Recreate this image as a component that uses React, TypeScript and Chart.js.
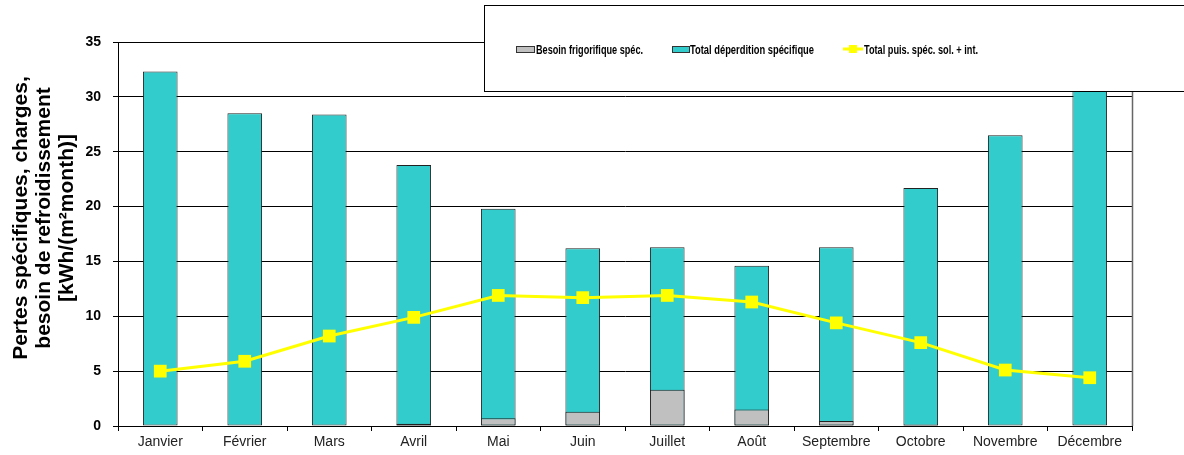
import React, { useEffect, useRef } from 'react';
import { Chart, registerables } from 'chart.js';

Chart.register(...registerables);

const months = ['Janvier', 'Février', 'Mars', 'Avril', 'Mai', 'Juin', 'Juillet', 'Août', 'Septembre', 'Octobre', 'Novembre', 'Décembre'];
const besoinFrigorifique = [null, null, null, 0.2, 0.7, 1.3, 3.3, 1.5, 0.45, 0.1, null, null];
const totalDeperdition = [32.3, 28.5, 28.4, 23.8, 19.8, 16.2, 16.3, 14.6, 16.3, 21.7, 26.5, 31.5];
const totalPuissance = [5.0, 5.9, 8.2, 9.9, 11.9, 11.7, 11.9, 11.3, 9.4, 7.6, 5.1, 4.4];
const yTicks = [0, 5, 10, 15, 20, 25, 30, 35];
const legendLabels = ['Besoin frigorifique spéc.', 'Total déperdition spécifique', 'Total puis. spéc. sol. + int.'];
const yTitle = ['Pertes spécifiques, charges,', 'besoin de refroidissement', '[kWh/(m²month)]'];

const FONT = "'Liberation Sans', Arial, sans-serif";

const decorPlugin = {
  id: 'decor',
  afterDraw(chart: any) {
    const ctx = chart.ctx as CanvasRenderingContext2D;
    const a = chart.chartArea;
    ctx.save();
    // right border of plot area
    ctx.strokeStyle = '#666';
    ctx.lineWidth = 1.5;
    ctx.beginPath();
    ctx.moveTo(a.right + 0.5, a.top);
    ctx.lineTo(a.right + 0.5, a.bottom);
    ctx.stroke();

    // y axis title
    ctx.fillStyle = '#000';
    ctx.font = `bold 21px ${FONT}`;
    ctx.textAlign = 'center';
    ctx.textBaseline = 'alphabetic';
    const baseX = [27, 50, 73];
    yTitle.forEach((t, i) => {
      ctx.save();
      ctx.translate(baseX[i], 218);
      ctx.rotate(-Math.PI / 2);
      ctx.fillText(t, 0, 0);
      ctx.restore();
    });

    // legend box
    ctx.fillStyle = '#fff';
    ctx.fillRect(484, 5, 720, 86);
    ctx.strokeStyle = '#000';
    ctx.lineWidth = 1;
    ctx.strokeRect(484.5, 5.5, 720, 86);

    const ds = chart.data.datasets;
    ctx.font = `bold 12px ${FONT}`;
    ctx.textAlign = 'left';
    ctx.textBaseline = 'alphabetic';
    // item 1: gray
    ctx.fillStyle = ds[1].backgroundColor;
    ctx.fillRect(516, 46, 18, 6);
    ctx.strokeStyle = '#333';
    ctx.strokeRect(516.5, 46.5, 18, 6);
    ctx.fillStyle = '#000';
    ctx.fillText(legendLabels[0], 536, 54, 107);
    // item 2: cyan
    ctx.fillStyle = ds[2].backgroundColor;
    ctx.fillRect(672, 46, 17, 6);
    ctx.strokeStyle = '#333';
    ctx.strokeRect(672.5, 46.5, 17, 6);
    ctx.fillStyle = '#000';
    ctx.fillText(legendLabels[1], 690, 54, 124);
    // item 3: line
    ctx.strokeStyle = ds[0].borderColor;
    ctx.lineWidth = 3;
    ctx.beginPath();
    ctx.moveTo(843, 49);
    ctx.lineTo(863, 49);
    ctx.stroke();
    ctx.fillStyle = ds[0].borderColor;
    ctx.fillRect(849, 45, 8, 8);
    ctx.fillStyle = '#000';
    ctx.fillText(legendLabels[2], 864, 54, 114);
    ctx.restore();
  },
};

export default function App() {
  const ref = useRef<HTMLCanvasElement>(null);
  useEffect(() => {
    document.body.style.margin = '0';
    const chart = new Chart(ref.current as HTMLCanvasElement, {
      type: 'bar',
      data: {
        labels: months,
        datasets: [
          {
            type: 'line',
            label: legendLabels[2],
            data: totalPuissance,
            borderColor: '#FFFF00',
            backgroundColor: '#FFFF00',
            borderWidth: 3,
            tension: 0,
            pointStyle: 'rect',
            pointRadius: 9,
            pointBorderWidth: 0,
            pointBackgroundColor: '#FFFF00',
            order: 0,
          } as any,
          {
            label: legendLabels[0],
            data: besoinFrigorifique,
            backgroundColor: '#C0C0C0',
            borderColor: '#222',
            borderWidth: 1,
            borderSkipped: false,
            barPercentage: 0.41,
            categoryPercentage: 1,
            order: 1,
          },
          {
            label: legendLabels[1],
            data: totalDeperdition,
            backgroundColor: '#33CCCC',
            borderColor: '#222',
            borderWidth: 1,
            borderSkipped: false,
            barPercentage: 0.41,
            categoryPercentage: 1,
            order: 2,
          },
        ],
      },
      options: {
        responsive: false,
        animation: false,
        layout: { padding: { top: 42, right: 52, left: 0, bottom: 0 } },
        plugins: {
          legend: { display: false },
          tooltip: { enabled: false },
        },
        scales: {
          x: {
            stacked: true,
            grid: { offset: true, drawOnChartArea: false, color: '#000', tickLength: 5, lineWidth: 1 },
            border: { color: '#000', width: 1 },
            ticks: { font: { size: 14, family: FONT }, color: '#222', padding: 3, maxRotation: 0, autoSkip: false },
            afterFit: (s: any) => { s.height = 29; },
          },
          y: {
            stacked: false,
            min: 0,
            max: 35,
            afterBuildTicks: (s: any) => { s.ticks = yTicks.map((v) => ({ value: v })); },
            grid: { color: '#000', lineWidth: 1, tickLength: 5, tickColor: '#000' },
            border: { color: '#000', width: 1 },
            ticks: { font: { size: 14, weight: 'bold', family: FONT }, color: '#000', padding: 12 },
            afterFit: (s: any) => { s.width = 118; },
          },
        },
      },
      plugins: [decorPlugin],
    });
    return () => chart.destroy();
  }, []);
  return (
    <div style={{ width: 1184, height: 455 }}>
      <canvas ref={ref} width={1184} height={455} style={{ display: 'block' }} />
    </div>
  );
}
